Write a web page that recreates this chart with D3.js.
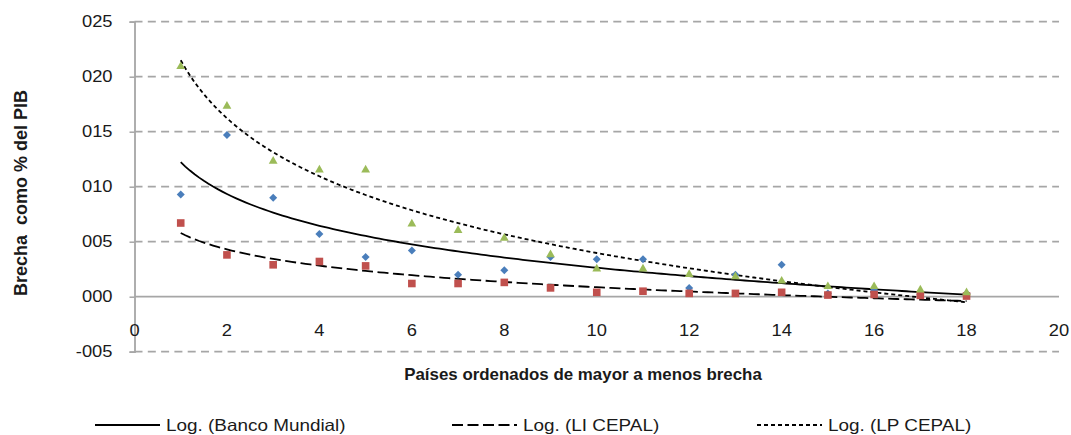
<!DOCTYPE html>
<html><head><meta charset="utf-8">
<script src="https://cdn.jsdelivr.net/npm/d3@7"></script>
<style>
html,body{margin:0;padding:0;background:#fff;}
svg{display:block;font-family:"Liberation Sans",Arial,sans-serif;}
text{white-space:pre;}
</style></head>
<body>
<script>
// ---- data ----
const countries = [1,2,3,4,5,6,7,8,9,10,11,12,13,14,15,16,17,18];
const bancoMundial = [9.3,14.7,9.0,5.7,3.6,4.2,2.0,2.4,3.6,3.4,3.4,0.8,2.0,2.9,0.3,0.6,0.2,0.3];
const liCepal = [6.7,3.8,2.9,3.2,2.8,1.2,1.2,1.3,0.8,0.4,0.5,0.3,0.3,0.4,0.15,0.2,0.12,0.06];
const lpCepal = [21.0,17.4,12.4,11.6,11.6,6.7,6.1,5.4,3.9,2.6,2.6,2.1,1.9,1.5,1.0,1.0,0.7,0.45];
const yTicks = [-5,0,5,10,15,20,25];
const xTicks = [0,2,4,6,8,10,12,14,16,18,20];
const yTitle = "Brecha  como % del PIB";
const xTitle = "Países ordenados de mayor a menos brecha";
const legendLabels = ["Log. (Banco Mundial)","Log. (LI CEPAL)","Log. (LP CEPAL)"];

const W = 1071, H = 435;
const svg = d3.select("body").append("svg").attr("width",W).attr("height",H);

const x = d3.scaleLinear().domain([0,20]).range([134.5,1059]);
const y = d3.scaleLinear().domain([-5,25]).range([351.7,21.7]);

const gridCol = "#a6a6a6";
const textCol = "#1a1a1a";
const FS = 15.8, SX = 1.16;

// gridlines
svg.append("g").selectAll("line").data(yTicks.filter(d=>d!==0)).join("line")
  .attr("x1",x(0)).attr("x2",x(20)).attr("y1",d=>y(d)).attr("y2",d=>y(d))
  .attr("stroke",gridCol).attr("stroke-width",1.8).attr("stroke-dasharray","8,5.3");

// x axis line at 0
svg.append("line").attr("x1",x(0)).attr("x2",x(20)).attr("y1",y(0)).attr("y2",y(0))
  .attr("stroke",gridCol).attr("stroke-width",1.8);

// y axis
const yAxis = d3.axisLeft(y).tickValues(yTicks).tickSize(5).tickPadding(17)
  .tickFormat(d => (d<0?"-":"") + String(Math.abs(d)).padStart(3,"0"));
const gy = svg.append("g").attr("transform",`translate(${x(0)},0)`).call(yAxis);
gy.select(".domain").attr("stroke",gridCol).attr("stroke-width",1.8);
gy.selectAll(".tick line").attr("stroke",gridCol).attr("stroke-width",1.5);
gy.selectAll(".tick text").attr("font-size",FS).attr("fill",textCol)
  .attr("font-family","Liberation Sans, Arial, sans-serif")
  .each(function(){const t=d3.select(this); const xx=+t.attr("x"); t.attr("transform",`translate(${xx*(1-SX)},0) scale(${SX},1)`);});

// x tick labels
svg.append("g").selectAll("text").data(xTicks).join("text")
  .attr("transform",d=>`translate(${x(d)},336) scale(${SX},1)`)
  .attr("text-anchor","middle").attr("font-size",FS).attr("fill",textCol).text(d=>d);

// trendlines: logarithmic least squares fit y = a ln(x) + b
function logFit(xs, ys){
  const n = xs.length, L = xs.map(Math.log);
  const mL = d3.mean(L), mY = d3.mean(ys);
  let sxy=0, sxx=0;
  for(let i=0;i<n;i++){sxy+=(L[i]-mL)*(ys[i]-mY); sxx+=(L[i]-mL)**2;}
  const a = sxy/sxx, b = mY - a*mL;
  return t => a*Math.log(t)+b;
}
const trendStyles = [
  {data:bancoMundial, dash:null},
  {data:liCepal, dash:"11,4.5"},
  {data:lpCepal, dash:"4,3"}
];
const samples = d3.range(1, 18.001, 0.1);
const line = d3.line().x(d=>x(d[0])).y(d=>y(d[1])).curve(d3.curveLinear);
trendStyles.forEach(s=>{
  const f = logFit(countries, s.data);
  svg.append("path").datum(samples.map(t=>[t,f(t)])).attr("d",line)
    .attr("fill","none").attr("stroke","#000").attr("stroke-width",1.8)
    .attr("stroke-dasharray",s.dash);
});

// markers
const gm = svg.append("g");
gm.selectAll(".bm").data(countries).join("path")
  .attr("transform",(d,i)=>`translate(${x(d)},${y(bancoMundial[i])})`)
  .attr("d","M0,-4L4,0L0,4L-4,0Z").attr("fill","#4a7ebb");
gm.selectAll(".li").data(countries).join("rect")
  .attr("x",d=>x(d)-3.8).attr("y",(d,i)=>y(liCepal[i])-3.8)
  .attr("width",7.6).attr("height",7.6).attr("fill","#c0504d");
gm.selectAll(".lp").data(countries).join("path")
  .attr("transform",(d,i)=>`translate(${x(d)},${y(lpCepal[i])})`)
  .attr("d","M0,-4.3L4.4,3.4L-4.4,3.4Z").attr("fill","#9bbb59");

// axis titles
svg.append("text").attr("transform","translate(27,193) rotate(-90)")
  .attr("text-anchor","middle").attr("font-weight","bold").attr("font-size",18)
  .attr("fill",textCol).text(yTitle);
svg.append("text").attr("transform","translate(583,380)")
  .attr("text-anchor","middle").attr("font-weight","bold").attr("font-size",16.9)
  .attr("fill",textCol).text(xTitle);

// legend
const legendX = [95, 452, 757];
const lg = svg.append("g");
legendLabels.forEach((lab,i)=>{
  const g = lg.append("g").attr("transform",`translate(${legendX[i]},425)`);
  g.append("line").attr("x1",0).attr("x2",65).attr("y1",0).attr("y2",0)
    .attr("stroke","#000").attr("stroke-width",1.8).attr("stroke-dasharray",trendStyles[i].dash);
  g.append("text").attr("transform",`translate(71,5.7) scale(${SX},1)`)
    .attr("font-size",16.3).attr("fill",textCol).text(lab);
});
</script>
</body></html>
